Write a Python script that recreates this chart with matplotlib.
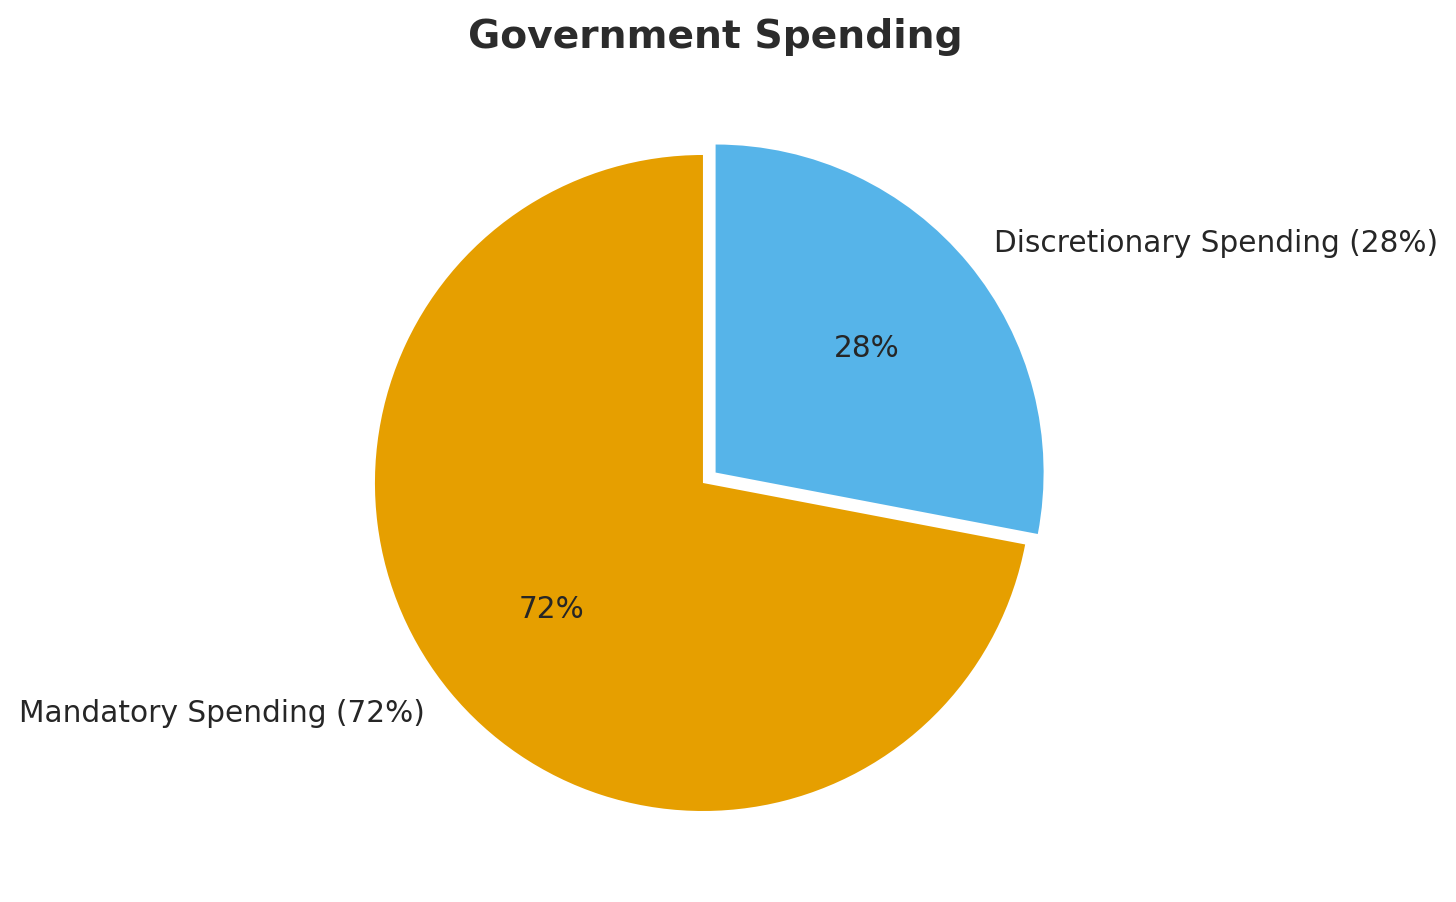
import matplotlib.pyplot as plt

categories = ['Discretionary Spending', 'Mandatory Spending']
shares = [28, 72]
colors = ['#56B4E9', '#E69F00']
explode = [0.05, 0]

labels = [f'{c} ({s}%)' for c, s in zip(categories, shares)]

fig = plt.figure(figsize=(14.56, 9.03), dpi=100)
ax = fig.add_axes([0.2012, 0.00997, 0.5632, 0.9081])
wedges, texts, autotexts = ax.pie(
    shares, labels=labels, colors=colors, explode=explode,
    startangle=90, counterclock=False, autopct='%1.0f%%',
    textprops={'fontsize': 21.3, 'color': '#262626'},
    wedgeprops={'linewidth': 0},
)
ax.set_title('Government Spending', fontsize=28.3, fontweight='bold',
             color='#2b2b2b', pad=18.5, x=0.5146)
plt.savefig('out.png')
